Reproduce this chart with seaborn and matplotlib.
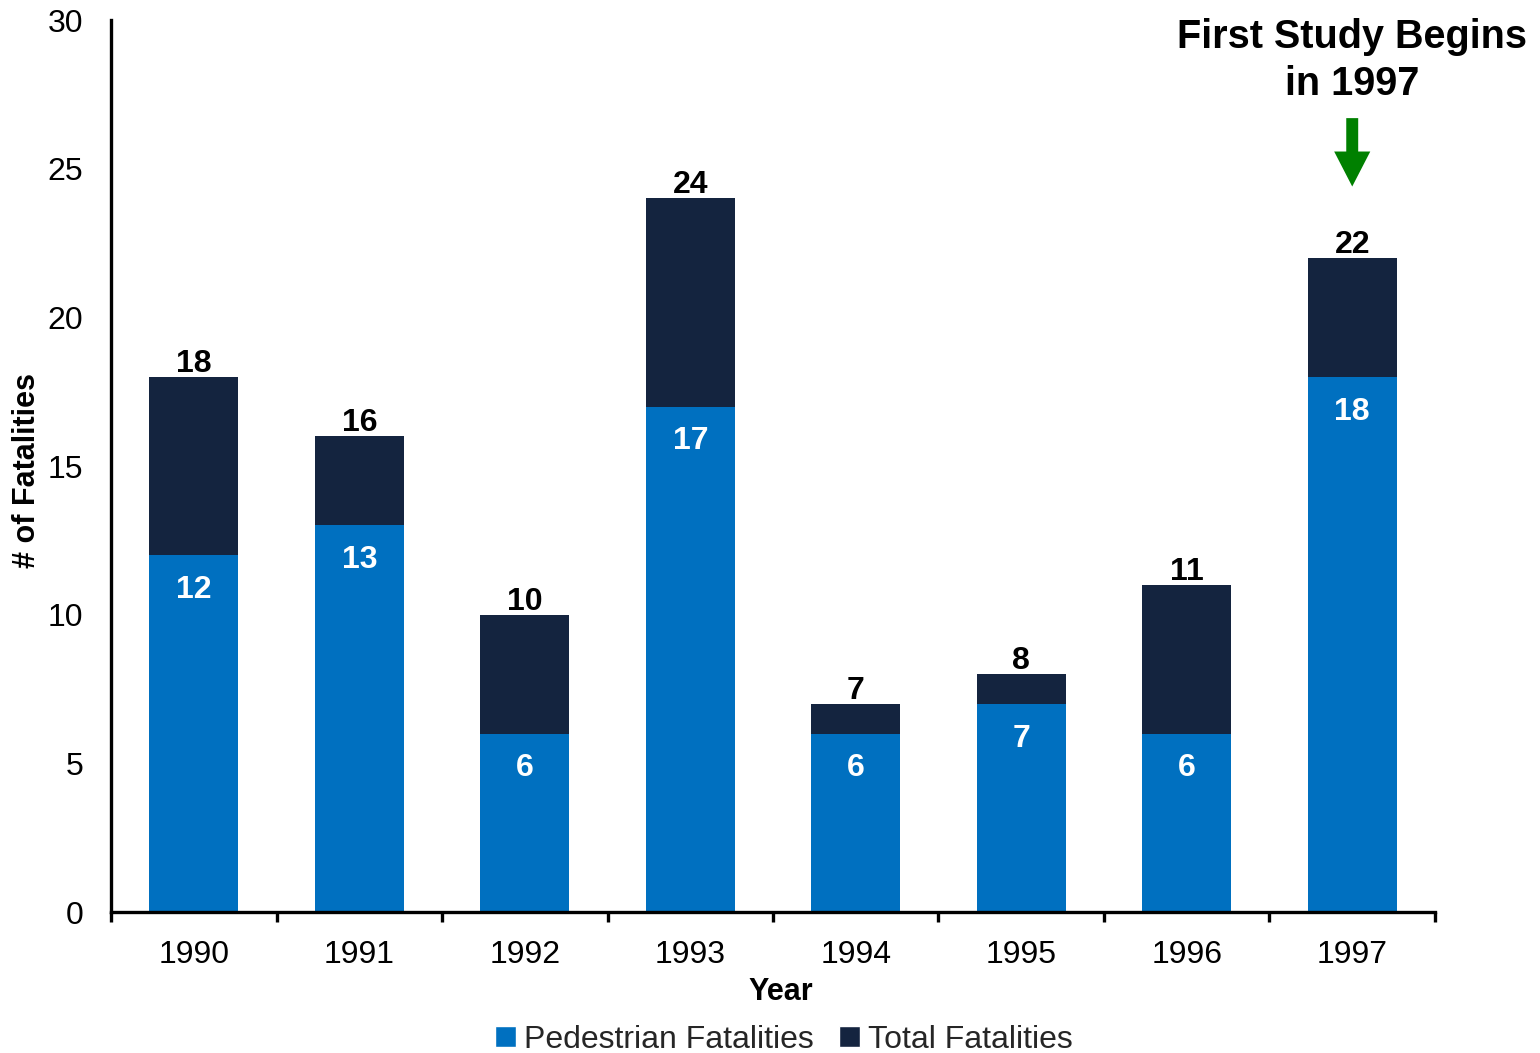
import matplotlib
matplotlib.use("Agg")
import matplotlib.pyplot as plt
import seaborn as sns
import pandas as pd
from matplotlib.patches import Patch

years = ["1990", "1991", "1992", "1993", "1994", "1995", "1996", "1997"]
pedestrian = [12, 13, 6, 17, 6, 7, 6, 18]
total = [18, 16, 10, 24, 7, 8, 11, 22]

ped_color = "#0070C0"
tot_color = "#14243F"

sns.set_theme(style="white")
plt.rcParams["font.family"] = ["Liberation Sans", "DejaVu Sans"]

df = pd.DataFrame({"Year": years, "Pedestrian": pedestrian, "Total": total})

fig = plt.figure(figsize=(15.4, 10.53), dpi=100)
ax = fig.add_axes([0.0721, 0.1339, 0.8597, 0.8471])

sns.barplot(data=df, x="Year", y="Total", order=years, color=tot_color,
            width=0.54, saturation=1, ax=ax, linewidth=0)
sns.barplot(data=df, x="Year", y="Pedestrian", order=years, color=ped_color,
            width=0.54, saturation=1, ax=ax, linewidth=0)

ax.set_xlim(-0.5, 7.5)
ax.set_ylim(0, 30)
ax.set_yticks(range(0, 31, 5))

for i, (p, t) in enumerate(zip(pedestrian, total)):
    ax.text(i, t + 0.17, str(t), ha="center", va="baseline", fontsize=23,
            fontweight="bold", color="black")
    ax.text(i, p - 1.17, str(p), ha="center", va="center", fontsize=23,
            fontweight="bold", color="white")

for s in ["top", "right"]:
    ax.spines[s].set_visible(False)
for s in ["left", "bottom"]:
    ax.spines[s].set_color("black")
    ax.spines[s].set_linewidth(2.4)

ax.tick_params(axis="y", which="both", length=0, labelsize=23, pad=20, colors="black")
ax.tick_params(axis="x", which="major", length=0, labelsize=23, pad=20, colors="black")
ax.set_xticks([i - 0.5 for i in range(9)], minor=True)
ax.tick_params(axis="x", which="minor", bottom=True, length=7, width=2.4,
               direction="out", color="black")

ax.set_xlabel("")
ax.set_ylabel("")
fig.text(781 / 1540, 1 - 992 / 1053, "Year", ha="center", va="center",
         fontsize=22, fontweight="bold", color="black")
fig.text(27 / 1540, 1 - 470 / 1053, "# of Fatalities", ha="center", va="center",
         rotation=90, fontsize=22, fontweight="bold", color="black")

ax.annotate("", xy=(7, 24.4), xytext=(7, 26.7), xycoords="data",
            arrowprops=dict(arrowstyle="simple,head_length=1.26,head_width=1.3,tail_width=0.43",
                            mutation_scale=20, color="#008000", shrinkA=0, shrinkB=0,
                            linewidth=0))
ax.text(7, 28.64, "First Study Begins\nin 1997", ha="center", va="center",
        fontsize=28.5, fontweight="bold", color="black", linespacing=1.3,
        clip_on=False)

handles = [Patch(facecolor=ped_color, label="Pedestrian Fatalities"),
           Patch(facecolor=tot_color, label="Total Fatalities")]
fig.legend(handles=handles, loc="center", bbox_to_anchor=(0.509, 0.0125), ncol=2,
           frameon=False, fontsize=23, handlelength=0.65, handleheight=0.65,
           handletextpad=0.25, columnspacing=0.8, borderaxespad=0, borderpad=0)

fig.savefig("out.png", dpi=100)
